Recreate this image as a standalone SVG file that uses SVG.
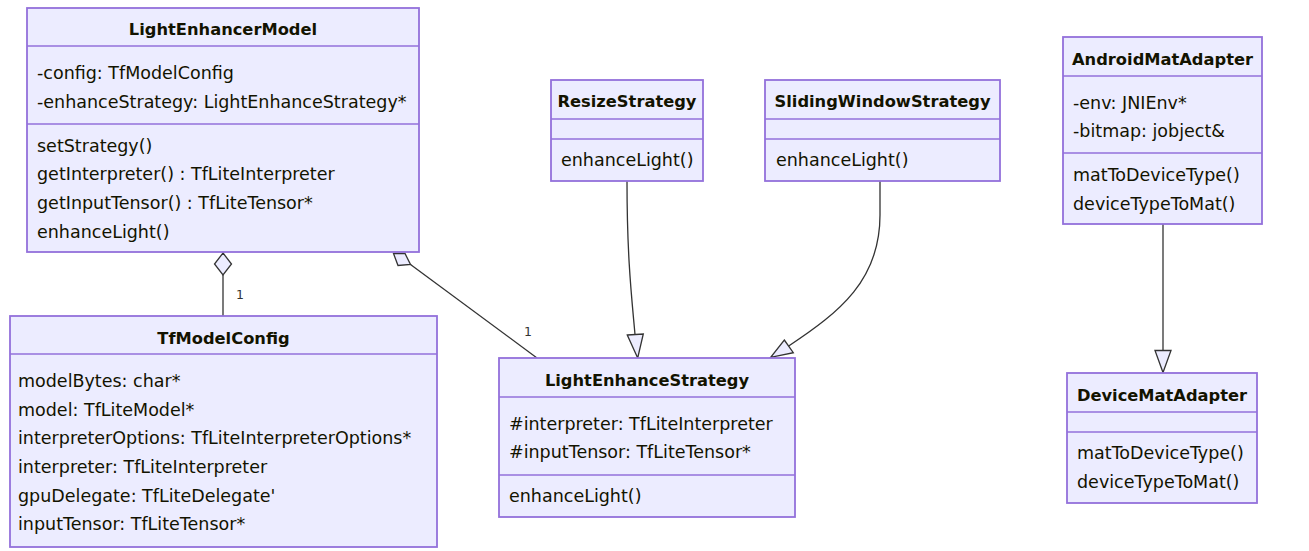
<svg xmlns="http://www.w3.org/2000/svg" width="1309" height="551" viewBox="0 0 1309 551">
<style>
.box{fill:#ECECFF;stroke:#9370DB;stroke-width:1.8}
.div{stroke:#9370DB;stroke-width:1.5}
.t{font-family:"DejaVu Sans",Verdana,sans-serif;font-size:17.5px;fill:#131300}
.h{font-family:"DejaVu Sans",Verdana,sans-serif;font-size:16.3px;font-weight:bold;fill:#131300;text-anchor:middle}
.ln{fill:none;stroke:#333333;stroke-width:1.3}
.mk{fill:#ECECFF;stroke:#333333;stroke-width:1.3;stroke-linejoin:miter}
.card{font-family:"DejaVu Sans",Verdana,sans-serif;font-size:12.5px;fill:#333333}
</style>
<rect width="1309" height="551" fill="#ffffff"/>
<g id="connectors">
  <path class="ln" d="M223,275 L223,316"/>
  <polygon class="mk" points="223,253 231.5,264 223,275 214.5,264"/>
  <text class="card" x="236" y="299">1</text>
  <path class="ln" d="M410.5,264.5 L537,358"/>
  <polygon class="mk" points="393.5,253.5 405,253.5 410.5,264.5 398,265.5"/>
  <text class="card" x="524" y="336">1</text>
  <path class="ln" d="M627,181 C627,260 632,300 635,334.5"/>
  <polygon class="mk" points="627.3,335 643.3,334 637.7,358"/>
  <path class="ln" d="M880,181 L880,215 C880,280 840,312 788.7,346"/>
  <polygon class="mk" points="784.3,340 793.3,352.7 770.7,357.3"/>
  <path class="ln" d="M1163,224 L1163,350.5"/>
  <polygon class="mk" points="1155,350.5 1171,350.5 1163,372.5"/>
</g>
<g id="LightEnhancerModel">
  <rect class="box" x="27" y="8" width="392" height="244"/>
  <line class="div" x1="27" y1="46" x2="419" y2="46"/>
  <line class="div" x1="27" y1="124" x2="419" y2="124"/>
  <text class="h" x="223" y="35">LightEnhancerModel</text>
  <text class="t" x="37" y="79">-config: TfModelConfig</text>
  <text class="t" x="37" y="108">-enhanceStrategy: LightEnhanceStrategy*</text>
  <text class="t" x="37" y="152">setStrategy()</text>
  <text class="t" x="37" y="180">getInterpreter() : TfLiteInterpreter</text>
  <text class="t" x="37" y="209">getInputTensor() : TfLiteTensor*</text>
  <text class="t" x="37" y="238">enhanceLight()</text>
</g>
<g id="TfModelConfig">
  <rect class="box" x="10" y="316" width="427" height="231"/>
  <line class="div" x1="10" y1="354" x2="437" y2="354"/>
  <text class="h" x="223.5" y="344">TfModelConfig</text>
  <text class="t" x="18" y="387">modelBytes: char*</text>
  <text class="t" x="18" y="416">model: TfLiteModel*</text>
  <text class="t" x="18" y="444">interpreterOptions: TfLiteInterpreterOptions*</text>
  <text class="t" x="18" y="473">interpreter: TfLiteInterpreter</text>
  <text class="t" x="18" y="502">gpuDelegate: TfLiteDelegate'</text>
  <text class="t" x="18" y="530">inputTensor: TfLiteTensor*</text>
</g>
<g id="LightEnhanceStrategy">
  <rect class="box" x="499" y="358" width="296" height="159"/>
  <line class="div" x1="499" y1="397" x2="795" y2="397"/>
  <line class="div" x1="499" y1="475" x2="795" y2="475"/>
  <text class="h" x="647" y="386">LightEnhanceStrategy</text>
  <text class="t" x="509" y="430">#interpreter: TfLiteInterpreter</text>
  <text class="t" x="509" y="458">#inputTensor: TfLiteTensor*</text>
  <text class="t" x="509" y="502">enhanceLight()</text>
</g>
<g id="ResizeStrategy">
  <rect class="box" x="551" y="80" width="152" height="101"/>
  <line class="div" x1="551" y1="119" x2="703" y2="119"/>
  <line class="div" x1="551" y1="139" x2="703" y2="139"/>
  <text class="h" x="627" y="107">ResizeStrategy</text>
  <text class="t" x="561" y="166">enhanceLight()</text>
</g>
<g id="SlidingWindowStrategy">
  <rect class="box" x="765" y="80" width="235" height="101"/>
  <line class="div" x1="765" y1="119" x2="1000" y2="119"/>
  <line class="div" x1="765" y1="139" x2="1000" y2="139"/>
  <text class="h" x="882.5" y="107">SlidingWindowStrategy</text>
  <text class="t" x="776" y="166">enhanceLight()</text>
</g>
<g id="AndroidMatAdapter">
  <rect class="box" x="1063" y="37" width="199" height="187"/>
  <line class="div" x1="1063" y1="76" x2="1262" y2="76"/>
  <line class="div" x1="1063" y1="153" x2="1262" y2="153"/>
  <text class="h" x="1162.5" y="65">AndroidMatAdapter</text>
  <text class="t" x="1073" y="109">-env: JNIEnv*</text>
  <text class="t" x="1073" y="137">-bitmap: jobject&amp;</text>
  <text class="t" x="1073" y="181">matToDeviceType()</text>
  <text class="t" x="1073" y="210">deviceTypeToMat()</text>
</g>
<g id="DeviceMatAdapter">
  <rect class="box" x="1067" y="373" width="190" height="130"/>
  <line class="div" x1="1067" y1="412" x2="1257" y2="412"/>
  <line class="div" x1="1067" y1="432" x2="1257" y2="432"/>
  <text class="h" x="1162" y="401">DeviceMatAdapter</text>
  <text class="t" x="1077" y="459">matToDeviceType()</text>
  <text class="t" x="1077" y="488">deviceTypeToMat()</text>
</g>
</svg>
